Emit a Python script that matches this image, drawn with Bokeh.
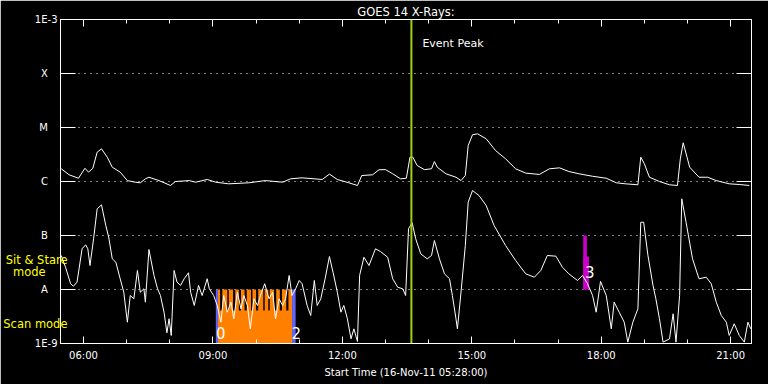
import json
from bokeh.plotting import figure
from bokeh.models import (FixedTicker, LinearAxis, LogAxis, Span, Label,
                          CustomJSTickFormatter)
from bokeh.embed import file_html
from bokeh.resources import INLINE

# ---------------- data ----------------
# GOES 14 long channel (1-8 A), W/m^2
t_long = ["05:29","05:40","05:53","06:02","06:07","06:13","06:19","06:25","06:33","06:40",
          "06:51","07:01","07:12","07:19","07:26","07:31","07:45","08:01","08:08","08:27",
          "08:36","08:52","09:04","09:22","09:50","10:13","10:37","10:48","11:04","11:32",
          "11:42","11:53","12:09","12:21","12:27","12:42","12:51","13:00","13:10","13:21",
          "13:29","13:34","13:38","13:44","13:54","14:04","14:08","14:12","14:24","14:38",
          "14:45","14:51","14:55","15:01","15:08","15:20","15:33","15:47","16:01","16:15",
          "16:34","16:48","17:02","17:15","17:29","17:48","18:07","18:21","18:34","18:51",
          "18:55","19:00","19:07","19:21","19:35","19:46","19:50","19:54","20:03","20:16",
          "20:28","20:40","20:58","21:12","21:26"]
f_long = [1.72e-6,1.33e-6,1.15e-6,1.76e-6,1.49e-6,1.76e-6,3.49e-6,4.03e-6,2.82e-6,1.84e-6,
          1.49e-6,1.04e-6,9.7e-7,9.46e-7,1.12e-6,1.2e-6,1.04e-6,8.43e-7,1.0e-6,1.04e-6,
          9.7e-7,1.09e-6,9.7e-7,9.06e-7,9.46e-7,1.04e-6,9.7e-7,1.12e-6,1.17e-6,1.09e-6,
          1.37e-6,1.09e-6,9.46e-7,8.43e-7,1.29e-6,1.33e-6,1.65e-6,1.66e-6,1.39e-6,1.12e-6,
          1.15e-6,2.82e-6,2.82e-6,1.98e-6,1.66e-6,1.72e-6,2.34e-6,1.84e-6,1.39e-6,1.2e-6,
          1.04e-6,1.29e-6,4.64e-6,7.33e-6,7.64e-6,6.18e-6,3.75e-6,2.63e-6,1.72e-6,1.43e-6,
          1.35e-6,1.72e-6,1.79e-6,1.53e-6,1.39e-6,1.25e-6,1.15e-6,9.46e-7,9.06e-7,8.69e-7,
          2.82e-6,2.13e-6,1.2e-6,1.0e-6,8.69e-7,8.43e-7,2.63e-6,5.21e-6,1.84e-6,1.2e-6,
          1.2e-6,1.04e-6,9.06e-7,8.8e-7,8.43e-7]

# GOES 14 short channel (0.5-4 A), W/m^2
t_short = ["05:29","05:35","05:42","05:46","05:51","05:58","06:03","06:06","06:09","06:14",
           "06:19","06:25","06:31","06:35","06:40","06:45","06:51","06:56","07:01","07:05",
           "07:10","07:15","07:19","07:24","07:26","07:31","07:38","07:43","07:47","07:52",
           "07:56","07:59","08:02","08:06","08:10","08:15","08:20","08:26","08:29","08:34",
           "08:40","08:45","08:52","08:55","09:01","09:06","09:11","09:15","09:20","09:25",
           "09:29","09:34","09:39","09:43","09:48","09:52","09:57","10:02","10:06","10:12",
           "10:18","10:23","10:27","10:32","10:37","10:41","10:46","10:50","10:55","11:00",
           "11:04","11:11","11:16","11:21","11:25","11:30","11:36","11:42","11:47","11:53",
           "11:58","12:02","12:07","12:12","12:16","12:21","12:24","12:30","12:37","12:46",
           "12:53","13:03","13:10","13:17","13:24","13:28","13:32","13:37","13:42","13:49",
           "13:58","14:04","14:08","14:15","14:22","14:29","14:33","14:38","14:40","14:45",
           "14:51","14:55","15:01","15:10","15:20","15:31","15:47","16:01","16:15","16:27",
           "16:36","16:45","16:57","17:06","17:15","17:27","17:34","17:41","17:48","17:53",
           "17:59","18:07","18:14","18:18","18:25","18:32","18:37","18:44","18:51","18:55",
           "18:59","19:05","19:12","19:16","19:21","19:26","19:35","19:40","19:44","19:49",
           "19:52","19:58","20:07","20:16","20:26","20:33","20:40","20:47","20:54","20:58",
           "21:05","21:12","21:19","21:24","21:28"]
f_short = [4.26e-8,2.59e-8,1.28e-8,1.15e-8,1.37e-8,5.67e-8,6.73e-8,5.67e-8,2.78e-8,8.69e-8,
           3.12e-7,3.7e-7,1.53e-7,9.3e-8,3.7e-8,3.2e-8,1.58e-8,8.9e-9,2.48e-9,7.74e-9,
           6.73e-9,2.25e-8,8.9e-9,1.03e-8,5.82e-9,5.5e-8,1.82e-8,1.03e-8,7.74e-9,3.8e-9,
           1.58e-9,2.87e-9,1.41e-9,2.25e-8,1.37e-8,1.19e-8,1.58e-8,2.04e-8,8.9e-9,5.06e-9,
           1.19e-8,7.74e-9,1.58e-8,1.03e-8,7.74e-9,5.06e-9,2.48e-9,7.74e-9,3.8e-9,5.82e-9,
           2.87e-9,8.9e-9,4.39e-9,7.74e-9,5.06e-9,1.87e-9,6.73e-9,5.06e-9,7.74e-9,1.28e-8,
           6.73e-9,8.9e-9,2.87e-9,6.73e-9,5.06e-9,6.73e-9,1.82e-8,7.74e-9,1.03e-8,1.47e-8,
           1.28e-8,5.06e-9,3.3e-9,1.47e-8,5.06e-9,6.73e-9,1.58e-8,4.08e-8,2.09e-8,8.9e-9,
           3.8e-9,5.06e-9,2.87e-9,1.22e-9,1.87e-9,1.09e-9,1.82e-8,3.96e-8,2.78e-8,5.67e-8,
           5.05e-8,3.96e-8,1.58e-8,1.1e-8,1.03e-8,7.74e-9,1.33e-7,1.72e-7,8.69e-8,4.58e-8,
           3.7e-8,4.26e-8,8.07e-8,3.7e-8,1.95e-8,1.58e-8,7.74e-9,2.87e-9,1.87e-9,8.9e-9,
           6.53e-8,4.14e-7,6.81e-7,5.5e-7,3.59e-7,1.53e-7,6.53e-8,3.44e-8,1.95e-8,1.69e-8,
           2.25e-8,4.26e-8,4.14e-8,2.59e-8,1.95e-8,1.47e-8,1.82e-8,1.28e-8,7.74e-9,3.8e-9,
           1.41e-8,7.74e-9,1.87e-9,5.82e-9,3.8e-9,2.48e-9,1.06e-9,2.48e-9,4.39e-9,1.76e-7,
           1.76e-7,4.26e-8,1.19e-8,6.73e-9,2.87e-9,1.06e-9,1.22e-9,3.55e-9,1.06e-9,7.74e-9,
           4.78e-7,1.76e-7,3.7e-8,1.58e-8,1.69e-8,1.28e-8,5.82e-9,3.3e-9,2.48e-9,1.41e-9,
           2.32e-9,1.41e-9,1.06e-9,2.48e-9,1.87e-9]

# Scan-mode observation blocks (orange), edges (blue)
scan_start = ["09:07","09:13","09:22","09:31","09:39","09:47","09:55","10:03","10:12","10:19","10:28","10:36","10:45"]
scan_end   = ["09:10","09:20","09:28","09:36","09:44","09:53","10:00","10:10","10:17","10:25","10:33","10:42","10:50"]
scan_window = ["09:07", "10:50"]
scan_base_top = 4.1e-9
scan_top = 1e-8
edge_start = ["09:04", "10:50"]
edge_end   = ["09:07", "10:55"]
edge_top = 1e-8
edge_labels = ["0", "2"]
edge_label_times = ["09:11", "10:56"]
edge_label_flux = 1.56e-9

# Sit & stare block (magenta)
stare_start = ["17:35", "17:35"]
stare_end   = ["17:40", "17:43"]
stare_bottom = [1e-8, 1e-8]
stare_top   = [1e-7, 4.1e-8]
stare_label = "3"
stare_label_time = "17:44"
stare_label_flux = 2.07e-8

event_peak = "13:36"

y_ticks = [1e-9, 1e-8, 1e-7, 1e-6, 1e-5, 1e-4, 1e-3]
y_tick_labels = ["1E-9", "A", "B", "C", "M", "X", "1E-3"]
x_tick_labels = ["06:00", "09:00", "12:00", "15:00", "18:00", "21:00"]
x_minor_hours = list(range(6, 22))
# observing-mode captions on the left margin (flux level where each sits)
mode_labels = ["Scan mode", "mode", "Sit & Stare"]
mode_label_flux = [2.3e-9, 2.15e-8, 3.5e-8]
mode_label_pad = [0, 6, 0]


def hrs(s):
    h, m = s.split(":")
    return int(h) + int(m) / 60.0


FONT = "DejaVu Sans"
WHITE = "white"
ORANGE = "#ff8000"
BLUE = "#6464f5"
MAGENTA = "#cc00cc"
YELLOW = "#ffff00"
PEAK = "#a0d010"
NB = "\u00a0"

x_start, x_end = hrs("05:28"), hrs("21:29")

p = figure(width=768, height=384, x_range=(x_start, x_end), y_range=(1e-9, 1e-3),
           y_axis_type="log", output_backend="svg", toolbar_location=None,
           title="GOES 14 X-Rays:",
           min_border_left=60, min_border_right=17, min_border_top=19, min_border_bottom=41,
           background_fill_color="black", border_fill_color="black",
           outline_line_color=WHITE, outline_line_width=1)

p.title.align = "center"
p.title.text_color = WHITE
p.title.text_font = FONT
p.title.text_font_size = "11.5px"
p.title.text_font_style = "normal"
p.title.standoff = 2
p.title.offset = 0

y_ticker = FixedTicker(ticks=y_ticks, minor_ticks=[])
x_ticker = FixedTicker(ticks=[hrs(t) for t in x_tick_labels], minor_ticks=x_minor_hours)

padded = [lab if lab.startswith("1E") else lab + NB * 3 for lab in y_tick_labels]
y_fmt = CustomJSTickFormatter(code="const labels = %s; return labels[Math.round(Math.log10(tick)) + 9];"
                              % json.dumps(padded))
blank_fmt = CustomJSTickFormatter(code="return '';")


def style_axis(ax):
    ax.axis_line_color = WHITE
    ax.major_tick_line_color = WHITE
    ax.minor_tick_line_color = WHITE
    ax.major_label_text_color = WHITE
    ax.major_label_text_font = FONT
    ax.major_label_text_font_size = "10px"
    ax.axis_label_text_color = WHITE
    ax.axis_label_text_font = FONT
    ax.axis_label_text_font_size = "10px"
    ax.axis_label_text_font_style = "normal"


# left axis
ya = p.yaxis[0]
ya.ticker = y_ticker
ya.formatter = y_fmt
style_axis(ya)
ya.major_tick_in = 15
ya.major_tick_out = 0
ya.minor_tick_in = 0
ya.minor_tick_out = 0
ya.major_label_standoff = 3

# outer left "axis" carrying the yellow observing-mode captions
mode_padded = [lab + NB * n for lab, n in zip(mode_labels, mode_label_pad)]
mode_axis = LogAxis(ticker=FixedTicker(ticks=mode_label_flux, minor_ticks=[]),
                    formatter=CustomJSTickFormatter(code="const labels = %s; return labels[index];"
                                                    % json.dumps(mode_padded)))
mode_axis.axis_line_color = None
mode_axis.major_tick_line_color = None
mode_axis.minor_tick_line_color = None
mode_axis.major_tick_in = 0
mode_axis.major_tick_out = 0
mode_axis.major_label_text_color = YELLOW
mode_axis.major_label_text_font = FONT
mode_axis.major_label_text_font_size = "11.5px"
mode_axis.major_label_standoff = -36
p.add_layout(mode_axis, "left")

# bottom axis
xa = p.xaxis[0]
xa.ticker = x_ticker
xa.major_label_overrides = {hrs(t): t for t in x_tick_labels}
style_axis(xa)
xa.major_tick_in = 7
xa.major_tick_out = 0
xa.minor_tick_in = 4
xa.minor_tick_out = 0
xa.major_label_standoff = 6
xa.axis_label = "Start Time (16-Nov-11 05:28:00)"
xa.axis_label_standoff = 3

# top axis (ticks only)
top = LinearAxis(ticker=x_ticker, formatter=blank_fmt)
style_axis(top)
top.major_tick_in = 7
top.major_tick_out = 0
top.minor_tick_in = 4
top.minor_tick_out = 0
top.major_label_text_font_size = "0px"
top.major_label_standoff = 0
p.add_layout(top, "above")

# right axis (ticks only)
right = LogAxis(ticker=y_ticker, formatter=blank_fmt)
style_axis(right)
right.major_tick_in = 15
right.major_tick_out = 0
right.minor_tick_in = 0
right.minor_tick_out = 0
right.major_label_text_font_size = "0px"
right.major_label_standoff = 0
p.add_layout(right, "right")

p.xgrid.visible = False
p.ygrid.ticker = y_ticker
p.ygrid.grid_line_color = WHITE
p.ygrid.grid_line_dash = "1 5"
p.ygrid.grid_line_width = 1

# scan mode blocks
p.quad(left=[hrs(scan_window[0])], right=[hrs(scan_window[1])], bottom=[1e-9], top=[scan_base_top],
       fill_color=ORANGE, line_color=None)
p.quad(left=[hrs(s) for s in scan_start], right=[hrs(s) for s in scan_end],
       bottom=[1e-9] * len(scan_start), top=[scan_top] * len(scan_start),
       fill_color=ORANGE, line_color=None)
p.quad(left=[hrs(s) for s in edge_start], right=[hrs(s) for s in edge_end],
       bottom=[1e-9] * len(edge_start), top=[edge_top] * len(edge_start),
       fill_color=BLUE, line_color=None)

# sit & stare block
p.quad(left=[hrs(s) for s in stare_start], right=[hrs(s) for s in stare_end],
       bottom=stare_bottom, top=stare_top, fill_color=MAGENTA, line_color=None)

# curves
p.line([hrs(t) for t in t_long], f_long, line_color=WHITE, line_width=1)
p.line([hrs(t) for t in t_short], f_short, line_color=WHITE, line_width=1)

# event peak
p.add_layout(Span(location=hrs(event_peak), dimension="height", line_color=PEAK, line_width=2))
p.add_layout(Label(x=hrs(event_peak), y=3.6e-4, x_offset=11, text="Event Peak",
                   text_color=WHITE, text_font=FONT, text_font_size="11px",
                   text_baseline="middle"))

for lab, t in zip(edge_labels, edge_label_times):
    p.add_layout(Label(x=hrs(t), y=edge_label_flux, text=lab, text_color=WHITE,
                       text_font=FONT, text_font_size="15px",
                       text_align="center", text_baseline="middle"))
p.add_layout(Label(x=hrs(stare_label_time), y=stare_label_flux, text=stare_label,
                   text_color=WHITE, text_font=FONT, text_font_size="15px",
                   text_align="center", text_baseline="middle"))

open("out.html", "w").write(file_html(p, INLINE))
